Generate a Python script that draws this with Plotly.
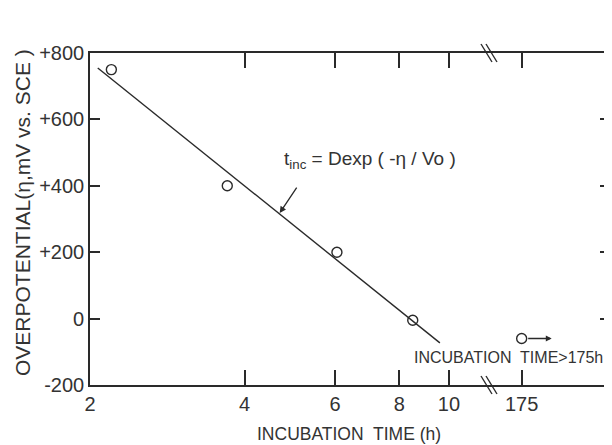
import numpy as np
import plotly.graph_objects as go

# ---- data ----
time_h = [2.2, 3.7, 6.05, 8.5]          # incubation time (h)
overpot_mv = [750, 400, 200, -5]        # overpotential (mV vs SCE)
long_time_h = [175]                     # incubation time > 175 h
long_overpot_mv = [-60]
fit_time_h = [2.07, 9.6]                # fitted line t_inc = D exp(-eta/Vo)
fit_overpot_mv = [755, -73]

x_ticks = [2, 4, 6, 8, 10]
x2_ticks = [175]
y_ticks = [-200, 0, 200, 400, 600, 800]
y_ticklabels = ["-200", "0", "+200", "+400", "+600", "+800"]

INK = "#2a2a2a"
TXT = "#333333"
REG = "Liberation Sans, Arial, sans-serif"

# the page body has an 8px margin; size the figure so it fills the window
OFF = 8
W, H = 612 - OFF, 445 - OFF
PL, PT, PB, PR = 90, 53, 385, 612          # plot box in window pixels
ML, MT = PL - OFF, PT - OFF
MB = H - (PB - OFF)
MR = 0
plot_w = PR - PL
plot_h = PB - PT
brk = (488 - PL) / plot_w   # domain split for the axis break

fig = go.Figure()

fig.add_trace(go.Scatter(
    x=fit_time_h, y=fit_overpot_mv, mode="lines",
    line=dict(color=INK, width=1.4), xaxis="x", yaxis="y", showlegend=False))
fig.add_trace(go.Scatter(
    x=time_h, y=overpot_mv, mode="markers",
    marker=dict(symbol="circle-open", size=10, color=INK, line=dict(width=1.4)),
    xaxis="x", yaxis="y", showlegend=False))
fig.add_trace(go.Scatter(
    x=long_time_h, y=long_overpot_mv, mode="markers",
    marker=dict(symbol="circle-open", size=10, color=INK, line=dict(width=1.4)),
    xaxis="x2", yaxis="y2", showlegend=False))

axis_common = dict(showgrid=False, zeroline=False, showline=True, linecolor=INK,
                   linewidth=1.6, ticks="inside", tickcolor=INK, tickwidth=1.6,
                   automargin=False,
                   tickfont=dict(family=REG, size=20, color=TXT))

fig.update_layout(
    width=W, height=H,
    margin=dict(l=ML, r=MR, t=MT, b=MB),
    paper_bgcolor="white", plot_bgcolor="white",
    xaxis=dict(type="log", domain=[0, brk], range=[np.log10(1.999), 1.076],
               tickmode="array", tickvals=x_ticks, ticktext=[str(v) for v in x_ticks],
               mirror="ticks", ticklen=15, anchor="y", ticklabelstandoff=0,
               **axis_common),
    xaxis2=dict(domain=[brk, 1], range=[165.5, 200.5], tickmode="array",
                tickvals=x2_ticks, ticktext=[str(v) for v in x2_ticks],
                mirror="ticks", ticklen=15, anchor="y", ticklabelstandoff=0,
                **axis_common),
    yaxis=dict(range=[-200, 800], tickmode="array", tickvals=y_ticks,
               ticktext=y_ticklabels, ticklen=10, anchor="x", mirror=False,
               ticklabelstandoff=0, **axis_common),
    yaxis2=dict(range=[-200, 800], overlaying="y", side="right", anchor="x2",
                tickmode="array", tickvals=y_ticks, showticklabels=False,
                showgrid=False, zeroline=False, showline=False, automargin=False,
                ticks="inside", ticklen=12, tickcolor=INK, tickwidth=1.6),
)

# axis break marks "\\" on top and bottom
shapes = []
for yanch in (0, 1):
    for dx in (0, 5):
        shapes.append(dict(type="line", xref="paper", yref="paper",
                           xsizemode="pixel", ysizemode="pixel",
                           xanchor=brk, yanchor=yanch,
                           x0=-7 + dx, y0=9, x1=4 + dx, y1=-9,
                           line=dict(color=INK, width=1.4)))
fig.update_layout(shapes=shapes)

anns = [
    # y title
    dict(xref="paper", yref="paper", x=0, y=0.5, xshift=-(PL - 22), yshift=6,
         text="OVERPOTENTIAL(η,mV vs. SCE )", textangle=-90, showarrow=False,
         font=dict(family=REG, size=21, color=TXT), xanchor="center", yanchor="middle"),
    # x title
    dict(xref="paper", yref="paper", x=(349 - PL) / plot_w, y=0, yshift=-(434 - PB),
         text="INCUBATION  TIME (h)", showarrow=False,
         font=dict(family=REG, size=17.5, color=TXT), xanchor="center", yanchor="middle"),
    # formula
    dict(xref="x", yref="y", x=np.log10(4.72), y=478, xanchor="left", yanchor="middle",
         text="t<sub>inc</sub> = Dexp ( -η / Vo )", showarrow=False,
         font=dict(family=REG, size=19, color=TXT)),
    # arrow from formula to line
    dict(xref="x", yref="y", x=np.log10(4.68), y=318, text="", showarrow=True,
         ax=18, ay=-27, arrowhead=2, arrowsize=1, arrowwidth=1.3, arrowcolor=INK),
    # note for > 175 h
    dict(xref="paper", yref="paper", x=(412 - PL) / plot_w, y=(PB - 357) / plot_h,
         xanchor="left", yanchor="middle", text="INCUBATION  TIME>175h",
         showarrow=False, font=dict(family=REG, size=16, color=TXT)),
    # arrow from the >175 h point
    dict(xref="x2", yref="y2", x=long_time_h[0], y=long_overpot_mv[0], xshift=30,
         text="", showarrow=True, ax=-25, ay=0, arrowhead=2, arrowsize=0.9,
         arrowwidth=1.3, arrowcolor=INK),
]
fig.update_layout(annotations=anns)

fig.write_html("out.html")
